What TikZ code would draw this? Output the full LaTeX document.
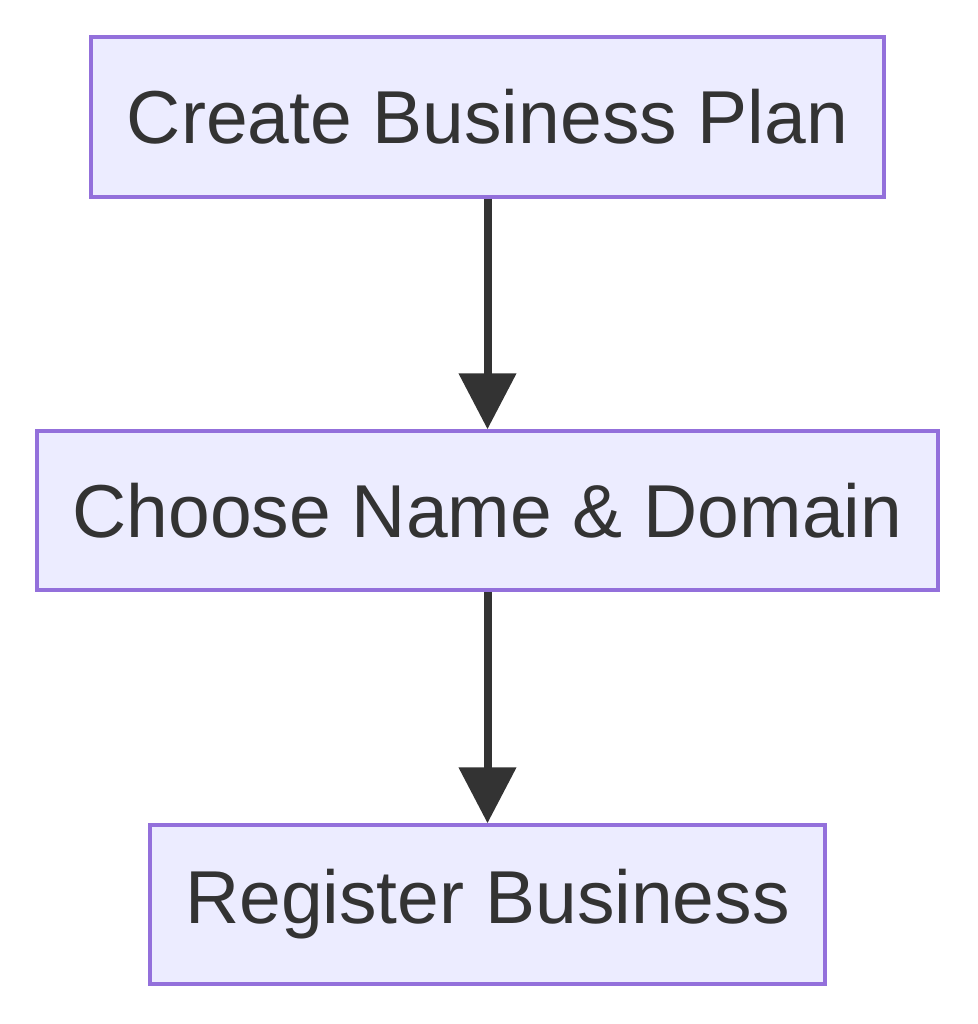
\documentclass[tikz,border=0pt]{standalone}
\usepackage{fontspec}
\setmainfont{Liberation Sans}
\usetikzlibrary{arrows.meta}
\definecolor{boxfill}{HTML}{ECECFF}
\definecolor{boxline}{HTML}{9370DB}
\definecolor{ink}{HTML}{333333}
\tikzset{
  flowbox/.style={draw=boxline, fill=boxfill, line width=3.5pt, inner sep=0pt, text=ink,
    font=\fontsize{75}{90}\selectfont, anchor=center},
  flowarrow/.style={draw=ink, line width=8pt, -{Triangle[length=56pt,width=56pt]}}
}
\begin{document}
\begin{tikzpicture}[x=1pt,y=-1pt]
\useasboundingbox (0,0) rectangle (977,1024);
\node[flowbox, minimum width=793pt, minimum height=160pt] (a) at (487.5,117) {Create Business Plan};
\node[flowbox, minimum width=901pt, minimum height=159pt] (b) at (487.5,510.5) {Choose Name \& Domain};
\node[flowbox, minimum width=675pt, minimum height=159pt] (c) at (487.5,904.5) {Register Business};
\draw[flowarrow] (a.south) -- (b.north);
\draw[flowarrow] (b.south) -- (c.north);
\end{tikzpicture}
\end{document}
